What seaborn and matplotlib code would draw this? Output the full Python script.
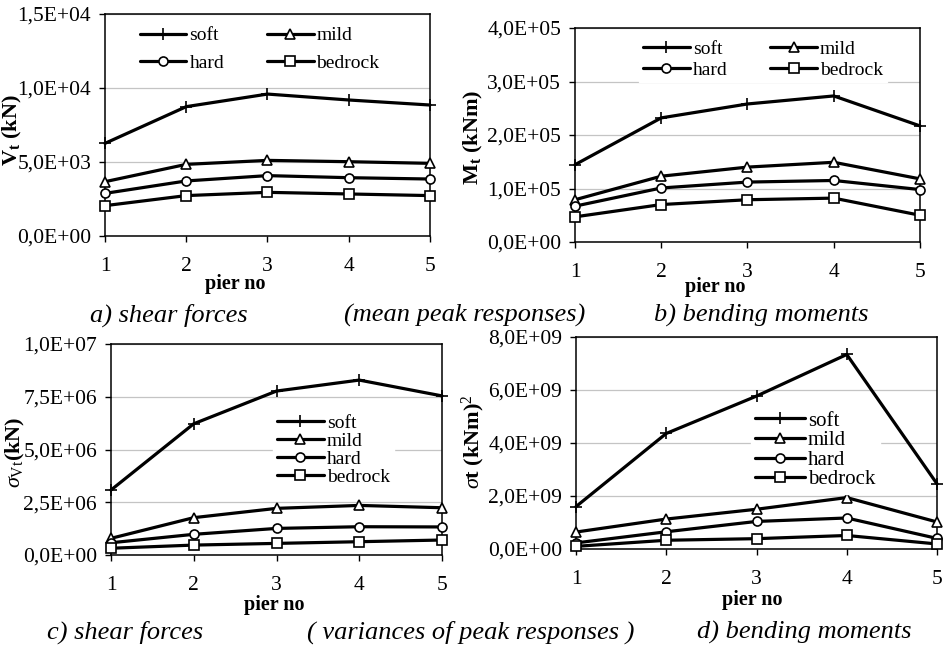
import matplotlib
matplotlib.use("Agg")
import matplotlib.pyplot as plt
import seaborn as sns
import numpy as np
import pandas as pd
from matplotlib.ticker import FuncFormatter, FixedLocator

sns.set_theme(style="white")
plt.rcParams['font.family'] = ['Liberation Serif', 'DejaVu Serif']
plt.rcParams['mathtext.fontset'] = 'custom'
plt.rcParams['mathtext.rm'] = 'Liberation Serif'
plt.rcParams['mathtext.it'] = 'Liberation Serif:italic'
plt.rcParams['mathtext.bf'] = 'Liberation Serif:bold'

piers = [1, 2, 3, 4, 5]
soils = ["soft", "mild", "hard", "bedrock"]

# a) mean peak shear forces (kN)
shear_mean_soft = [6260, 8740, 9590, 9190, 8850]
shear_mean_mild = [3670, 4840, 5110, 5020, 4910]
shear_mean_hard = [2880, 3720, 4080, 3940, 3850]
shear_mean_bedrock = [2050, 2730, 2950, 2840, 2730]

# b) mean peak bending moments (kNm)
moment_mean_soft = [1.445e5, 2.32e5, 2.58e5, 2.73e5, 2.17e5]
moment_mean_mild = [0.79e5, 1.23e5, 1.40e5, 1.49e5, 1.18e5]
moment_mean_hard = [0.67e5, 1.01e5, 1.12e5, 1.15e5, 0.98e5]
moment_mean_bedrock = [0.47e5, 0.70e5, 0.79e5, 0.82e5, 0.50e5]

# c) variances of peak shear forces
shear_var_soft = [3.08e6, 6.22e6, 7.77e6, 8.29e6, 7.54e6]
shear_var_mild = [0.79e6, 1.77e6, 2.21e6, 2.35e6, 2.24e6]
shear_var_hard = [0.58e6, 0.98e6, 1.26e6, 1.34e6, 1.33e6]
shear_var_bedrock = [0.32e6, 0.47e6, 0.55e6, 0.63e6, 0.71e6]

# d) variances of peak bending moments
moment_var_soft = [1.60e9, 4.36e9, 5.77e9, 7.34e9, 2.46e9]
moment_var_mild = [0.64e9, 1.13e9, 1.50e9, 1.94e9, 1.02e9]
moment_var_hard = [0.23e9, 0.65e9, 1.04e9, 1.17e9, 0.40e9]
moment_var_bedrock = [0.10e9, 0.33e9, 0.39e9, 0.51e9, 0.19e9]

yticks_a = [0, 5e3, 1e4, 1.5e4]
yticks_b = [0, 1e5, 2e5, 3e5, 4e5]
yticks_c = [0, 2.5e6, 5e6, 7.5e6, 1e7]
yticks_d = [0, 2e9, 4e9, 6e9, 8e9]

ylabel_a = r"V$_{\mathbf{t}}$ (kN)"
ylabel_b = r"M$_{\mathbf{t}}$ (kNm)"
ylabel_c = r"$\sigma_{\mathrm{Vt}}$(kN)"
ylabel_d = r"$\sigma$t (kNm)$^{\mathrm{2}}$"
xlabel = "pier no"

markers = {"soft": "+", "mild": "^", "hard": "o", "bedrock": "s"}
msizes = {"soft": 9, "mild": 7, "hard": 6.5, "bedrock": 6.5}

fig = plt.figure(figsize=(9.48, 6.49), dpi=100)
W, H = 948, 649

def make_ax(l, r, t, b):
    return fig.add_axes([l / W, 1 - b / H, (r - l) / W, (b - t) / H])

panels = [
    dict(box=(105, 430, 14, 236), data=[shear_mean_soft, shear_mean_mild, shear_mean_hard, shear_mean_bedrock],
         yticks=yticks_a, ylabel=ylabel_a, ylab_x=12, ylab_y=0.477, xlab_xy=(0.40, -0.215),
         leg=dict(bbox=(0.095, 0.96), ncol=2, labelspacing=0.5, fs=14)),
    dict(box=(575, 920, 28, 242), data=[moment_mean_soft, moment_mean_mild, moment_mean_hard, moment_mean_bedrock],
         yticks=yticks_b, ylabel=ylabel_b, ylab_x=473, ylab_y=0.49, xlab_xy=(0.406, -0.21),
         leg=dict(bbox=(0.186, 0.96), ncol=2, labelspacing=0.15, fs=14)),
    dict(box=(111, 442, 344, 555), data=[shear_var_soft, shear_var_mild, shear_var_hard, shear_var_bedrock],
         yticks=yticks_c, ylabel=ylabel_c, ylab_x=15, ylab_y=0.488, xlab_xy=(0.492, -0.235),
         leg=dict(bbox=(0.49, 0.685), ncol=1, labelspacing=0.02, fs=14)),
    dict(box=(576, 937, 337, 549), data=[moment_var_soft, moment_var_mild, moment_var_hard, moment_var_bedrock],
         yticks=yticks_d, ylabel=ylabel_d, ylab_x=473, ylab_y=0.505, xlab_xy=(0.488, -0.24),
         leg=dict(bbox=(0.484, 0.67), ncol=1, labelspacing=0.0, fs=15)),
]

fmt = FuncFormatter(lambda v, p: f"{v:.1E}".replace(".", ","))

for P in panels:
    ax = make_ax(*P["box"])
    for name, vals in zip(soils, P["data"]):
        sns.lineplot(x=piers, y=vals, ax=ax, color="black", lw=2.3, marker=markers[name],
                     markersize=msizes[name], markerfacecolor="white", markeredgecolor="black",
                     markeredgewidth=1.2, label=name, clip_on=False, zorder=3)
    ax.set_xlim(1, 5)
    ax.set_ylim(P["yticks"][0], P["yticks"][-1])
    ax.xaxis.set_major_locator(FixedLocator(piers))
    ax.yaxis.set_major_locator(FixedLocator(P["yticks"]))
    ax.yaxis.set_major_formatter(fmt)
    ax.grid(axis="y", color="#c4c4c4", lw=0.9)
    ax.grid(axis="x", visible=False)
    ax.set_axisbelow(True)
    for s in ax.spines.values():
        s.set_color("black")
        s.set_linewidth(1.1)
        s.set_visible(True)
    ax.tick_params(axis="x", direction="out", length=4, width=1, pad=11, labelsize=15.5, bottom=True, colors="black")
    ax.tick_params(axis="y", direction="out", length=4, width=1, pad=6, labelsize=15.5, left=True, colors="black")
    ax.set_xlabel("")
    ax.set_ylabel("")
    fig.text(P["ylab_x"] / W, 0, P["ylabel"], rotation=90,
             transform=matplotlib.transforms.blended_transform_factory(fig.transFigure, ax.transAxes),
             ha="center", va="center", fontsize=16, fontweight="bold", color="black").set_y(P["ylab_y"])
    ax.text(P["xlab_xy"][0], P["xlab_xy"][1], xlabel, transform=ax.transAxes,
            ha="center", va="center", fontsize=14.5, fontweight="bold", color="black")
    h, l = ax.get_legend_handles_labels()
    hd = dict(zip(l, h))
    L = P["leg"]
    order = ["soft", "hard", "mild", "bedrock"] if L["ncol"] == 2 else soils
    leg = ax.legend([hd[o] for o in order], order, loc="upper left", bbox_to_anchor=L["bbox"], ncol=L["ncol"],
                    frameon=True, facecolor="white", edgecolor="white", framealpha=1, fancybox=False,
                    fontsize=L["fs"], handlelength=2.4, handletextpad=0.15, columnspacing=2.2,
                    labelspacing=L["labelspacing"], borderpad=0.2, borderaxespad=0)
    for t in leg.get_texts():
        t.set_color("black")

cap = dict(fontsize=19, style="italic", ha="center", va="center", color="black")
fig.text(169 / W, 1 - 315 / H, "a) shear forces", **cap)
fig.text(465 / W, 1 - 315 / H, "(mean peak responses)", **cap)
fig.text(761 / W, 1 - 315 / H, "b) bending moments", **cap)
fig.text(125 / W, 1 - 632 / H, "c) shear forces", **cap)
fig.text(471 / W, 1 - 632 / H, "( variances of peak responses )", **cap)
fig.text(804 / W, 1 - 632 / H, "d) bending moments", **cap)

fig.savefig("out.png", dpi=100, facecolor="white")
